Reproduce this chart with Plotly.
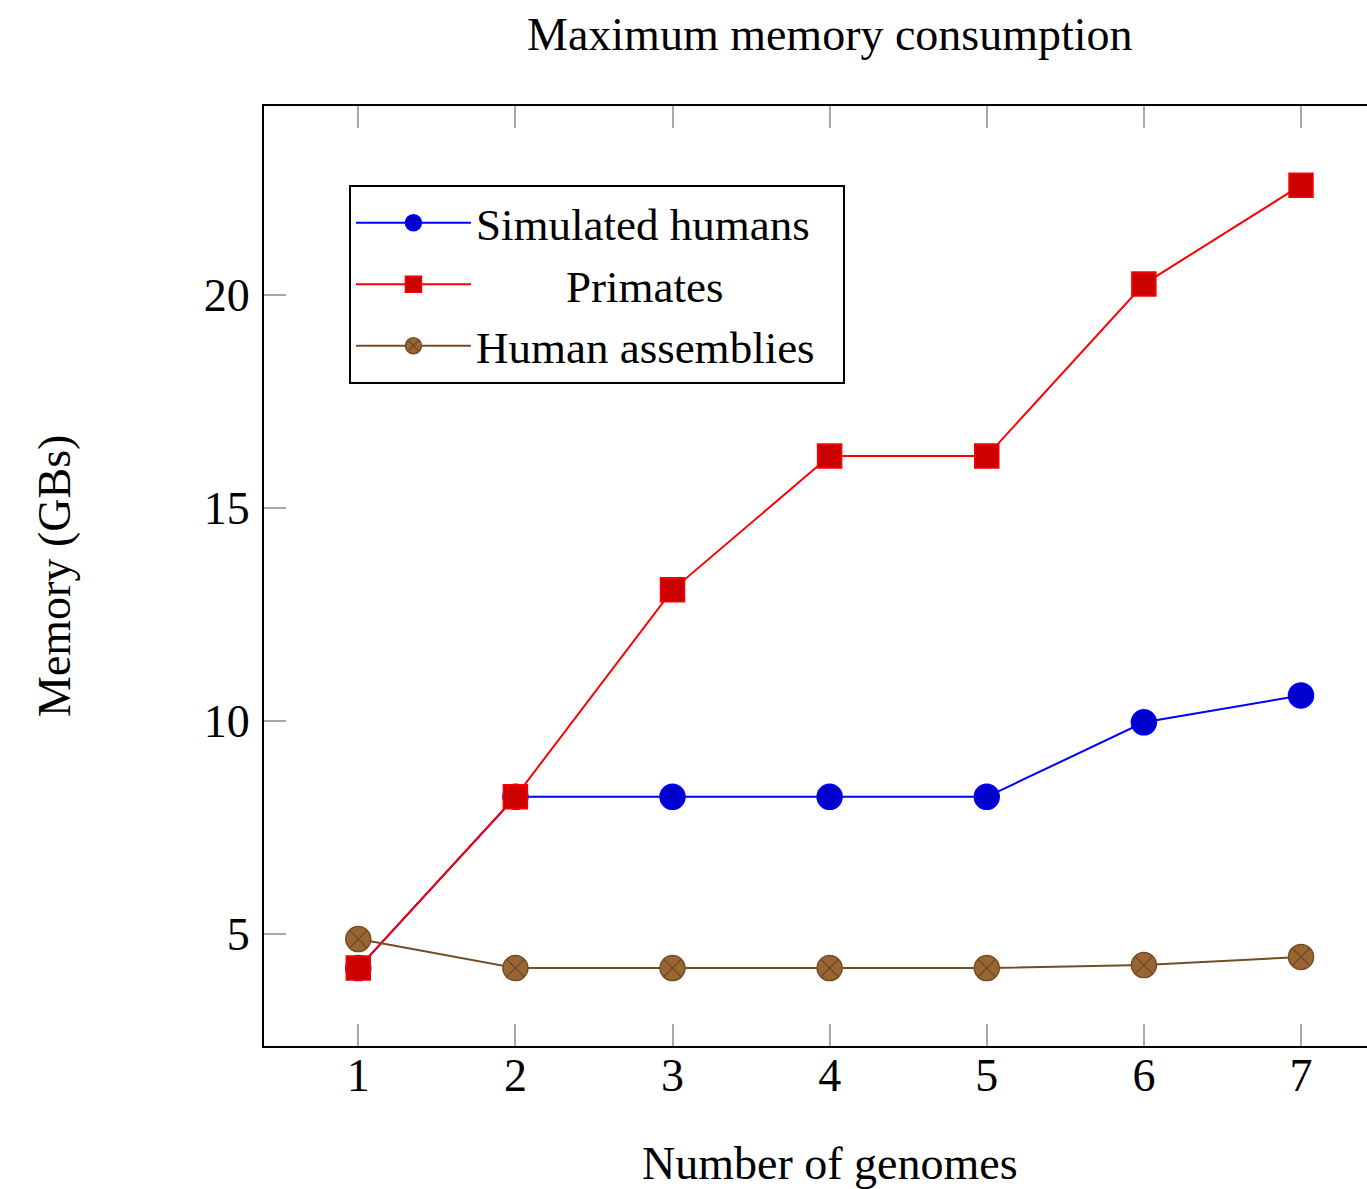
import plotly.graph_objects as go

genomes = [1, 2, 3, 4, 5, 6, 7]
simulated_humans = [4.2, 8.22, 8.22, 8.22, 8.22, 9.97, 10.6]
primates = [4.2, 8.22, 13.08, 16.22, 16.22, 20.26, 22.58]
human_assemblies = [4.88, 4.2, 4.2, 4.2, 4.2, 4.27, 4.46]
x_ticks = [1, 2, 3, 4, 5, 6, 7]
y_ticks = [5, 10, 15, 20]

FONT = "Liberation Serif"
NB = "\u00a0"

fig = go.Figure()
fig.add_trace(go.Scatter(
    x=genomes, y=simulated_humans, mode="lines+markers", name="Simulated humans",
    line=dict(color="#0000FF", width=2),
    marker=dict(symbol="circle", size=25, color="#0000CC", line=dict(color="#0000FF", width=1.5)),
))
fig.add_trace(go.Scatter(
    x=genomes, y=primates, mode="lines+markers", name=NB * 8 + "Primates",
    line=dict(color="#FF0000", width=2),
    marker=dict(symbol="square", size=24, color="#CC0000", line=dict(color="#FF0000", width=1.5)),
))
fig.add_trace(go.Scatter(
    x=genomes, y=human_assemblies, mode="lines+markers", name="Human assemblies" + NB * 2,
    line=dict(color="#734D26", width=2),
    marker=dict(symbol="circle-x", size=25, color="#996633", line=dict(color="#734D26", width=1.5)),
))

fig.update_layout(
    width=1367, height=1189,
    margin=dict(l=264, r=0, t=106, b=143),
    paper_bgcolor="white", plot_bgcolor="white",
    font=dict(family=FONT, size=46, color="black"),
    showlegend=True,
    legend=dict(
        x=0.077, y=0.916, xanchor="left", yanchor="top",
        bgcolor="white", bordercolor="black", borderwidth=2,
        font=dict(family=FONT, size=45, color="black"),
        itemwidth=115, tracegroupgap=0,
    ),
    annotations=[
        dict(text="Maximum memory consumption", xref="paper", yref="paper",
             x=(830 - 264) / 1103, y=1 + (106 - 35) / 940, xanchor="center", yanchor="middle",
             showarrow=False, font=dict(family=FONT, size=46)),
        dict(text="Number of genomes", xref="paper", yref="paper",
             x=(830 - 264) / 1103, y=-(1163 - 1046) / 940, xanchor="center", yanchor="middle",
             showarrow=False, font=dict(family=FONT, size=46)),
        dict(text="Memory (GBs)", xref="paper", yref="paper",
             x=(54 - 264) / 1103, y=0.5, xanchor="center", yanchor="middle", textangle=-90,
             showarrow=False, font=dict(family=FONT, size=46)),
    ],
)

fig.update_xaxes(
    range=[0.4, 7.42], tickmode="array", tickvals=x_ticks, ticktext=[str(v) for v in x_ticks],
    showgrid=False, zeroline=False,
    showline=True, linecolor="black", linewidth=2, mirror="ticks",
    ticks="inside", ticklen=22, tickwidth=1.5, tickcolor="#A8A8A8",
    tickfont=dict(family=FONT, size=46), ticklabelstandoff=-12,
)
fig.update_yaxes(
    range=[2.37, 24.44], tickmode="array", tickvals=y_ticks, ticktext=[str(v) for v in y_ticks],
    showgrid=False, zeroline=False,
    showline=True, linecolor="black", linewidth=2, mirror=False,
    ticks="inside", ticklen=22, tickwidth=1.5, tickcolor="#A8A8A8",
    tickfont=dict(family=FONT, size=46), ticklabelstandoff=3,
)

fig.write_html(
    "out.html",
    config={"displayModeBar": False},
    post_script="document.body.style.margin='0px';document.body.style.overflow='hidden';",
)
